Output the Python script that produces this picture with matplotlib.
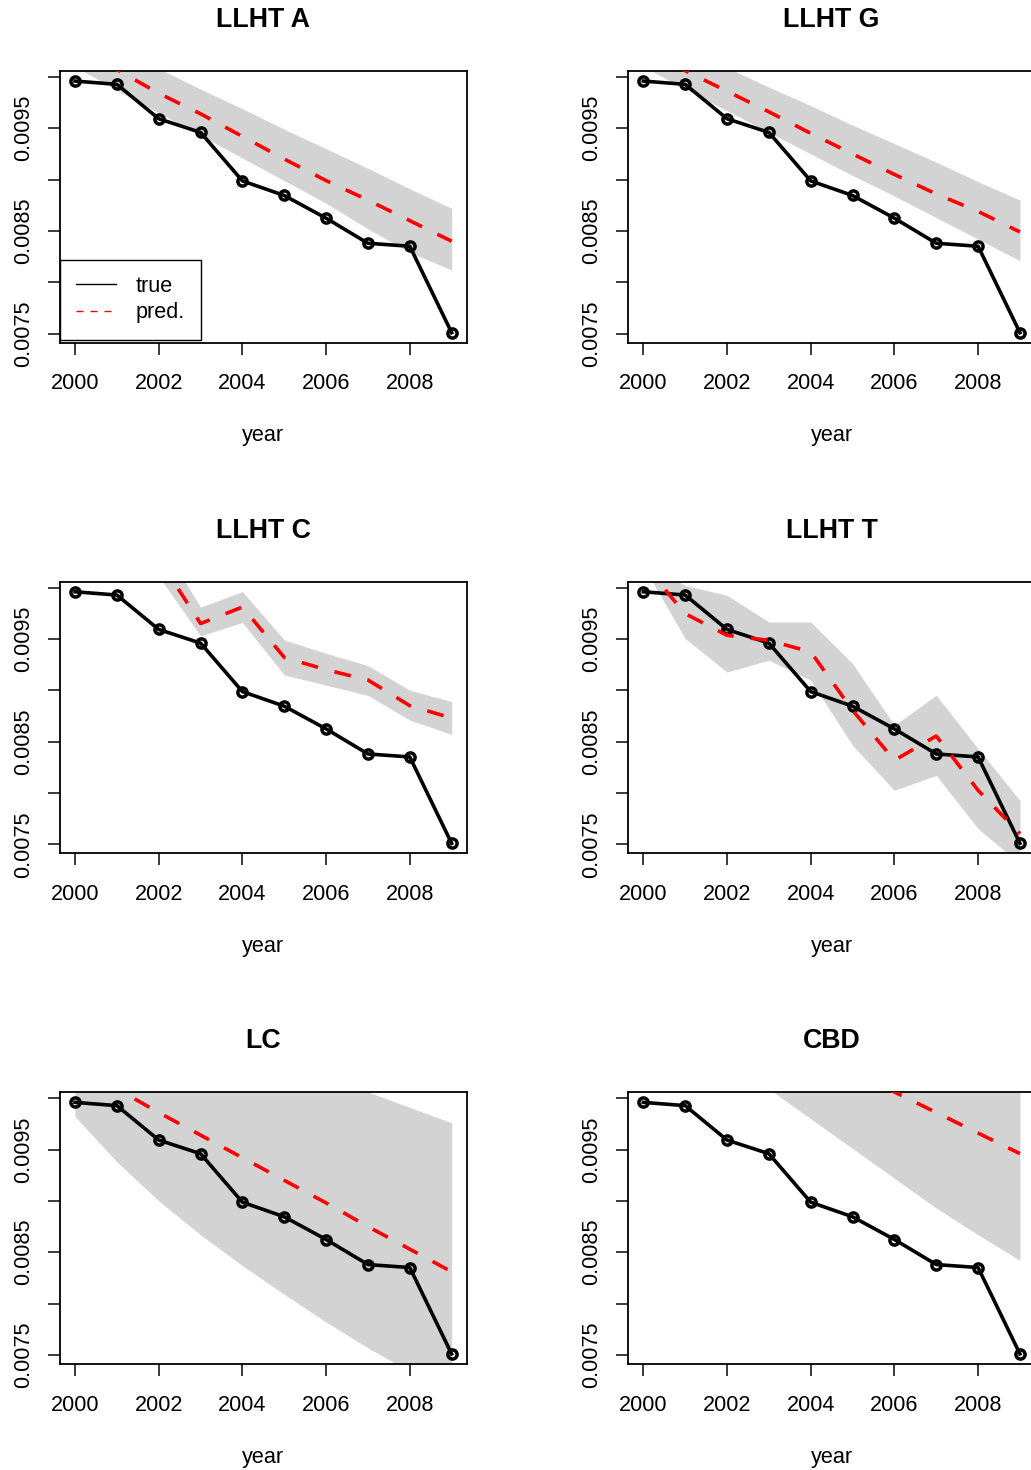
import matplotlib
matplotlib.use("Agg")
import matplotlib.pyplot as plt
from matplotlib.lines import Line2D

# ---------------- data ----------------
years = [2000, 2001, 2002, 2003, 2004, 2005, 2006, 2007, 2008, 2009]
true_vals = [0.009959, 0.009927, 0.009592, 0.009459, 0.008987,
             0.008845, 0.008624, 0.008380, 0.008351, 0.007510]

titles = ["LLHT A", "LLHT G", "LLHT C", "LLHT T", "LC", "CBD"]

pred_A = [0.01028, 0.01007, 0.00984, 0.00964, 0.00942, 0.00920, 0.00899, 0.00880, 0.00860, 0.00840]
lower_A = [0.01010, 0.00987, 0.00965, 0.00943, 0.00921, 0.00899, 0.00877, 0.00852, 0.00829, 0.00812]
upper_A = [0.01046, 0.01027, 0.01008, 0.00988, 0.00969, 0.00949, 0.00930, 0.00911, 0.00891, 0.00872]

pred_G = [0.01027, 0.01006, 0.00986, 0.00966, 0.00945, 0.00925, 0.00905, 0.00886, 0.00869, 0.00849]
lower_G = [0.01010, 0.00988, 0.00967, 0.00946, 0.00925, 0.00904, 0.00884, 0.00863, 0.00842, 0.00821]
upper_G = [0.01045, 0.01027, 0.01009, 0.00990, 0.00972, 0.00953, 0.00935, 0.00917, 0.00898, 0.00880]

pred_C = [0.01080, 0.01060, 0.01028, 0.00965, 0.00981, 0.00932, 0.00920, 0.00910, 0.00885, 0.00873]
lower_C = [0.01050, 0.01030, 0.01011, 0.00953, 0.00966, 0.00915, 0.00905, 0.00895, 0.00871, 0.00857]
upper_C = [0.01110, 0.01090, 0.01047, 0.00981, 0.00996, 0.00949, 0.00936, 0.00924, 0.00900, 0.00889]

pred_T = [0.01023, 0.009746, 0.009535, 0.009486, 0.009373, 0.008805, 0.008318, 0.008555, 0.008026, 0.007604]
lower_T = [0.01021, 0.009503, 0.009178, 0.009292, 0.009097, 0.008464, 0.008026, 0.008172, 0.007653, 0.007312]
upper_T = [0.01025, 0.01002, 0.009924, 0.009665, 0.009665, 0.009259, 0.008660, 0.008951, 0.008432, 0.007928]

pred_LC = [0.01031, 0.01009, 0.00986, 0.00964, 0.00942, 0.00920, 0.00898, 0.00875, 0.00853, 0.00831]
lower_LC = [0.00982, 0.00938, 0.00900, 0.00867, 0.00837, 0.00809, 0.00782, 0.00757, 0.00734, 0.00712]
upper_LC = [0.01089, 0.01091, 0.01091, 0.01081, 0.01067, 0.01052, 0.01036, 0.01006, 0.00991, 0.00976]

pred_CBD = [0.01128, 0.01108, 0.01087, 0.01067, 0.01047, 0.01027, 0.01006, 0.00986, 0.00966, 0.00946]
lower_CBD = [0.01075, 0.01050, 0.01030, 0.01009, 0.00980, 0.00951, 0.00922, 0.00893, 0.00867, 0.00842]
upper_CBD = [0.01180, 0.01170, 0.01150, 0.01130, 0.01120, 0.01100, 0.01090, 0.01080, 0.01070, 0.01060]

xtick_vals = [2000, 2002, 2004, 2006, 2008]
ytick_vals = [0.0075, 0.0080, 0.0085, 0.0090, 0.0095, 0.0100]
ytick_labels = ["0.0075", "", "0.0085", "", "0.0095", ""]

legend_labels = ["true", "pred."]
xlabel = "year"

panels = [
    (titles[0], pred_A, lower_A, upper_A),
    (titles[1], pred_G, lower_G, upper_G),
    (titles[2], pred_C, lower_C, upper_C),
    (titles[3], pred_T, lower_T, upper_T),
    (titles[4], pred_LC, lower_LC, upper_LC),
    (titles[5], pred_CBD, lower_CBD, upper_CBD),
]

# ---------------- styling / layout ----------------
plt.rcParams['font.family'] = ['Liberation Sans', 'DejaVu Sans']

W, H = 1031, 1470
PT = 0.72  # points per pixel at dpi 100
fig = plt.figure(figsize=(W / 100, H / 100), dpi=100)
fig.patch.set_facecolor("white")

box_w, box_h = 406.7, 271.7
lefts = [60.0, 628.3]
tops = [71.0, 581.7, 1092.3]

FS = 15.6
TFS = 19.3

xr = max(years) - min(years)
xlim = (min(years) - 0.04 * xr, max(years) + 0.04 * xr)
yr = max(true_vals) - min(true_vals)
ylim = (min(true_vals) - 0.04 * yr, max(true_vals) + 0.04 * yr)

for i, (title, pred, lo, up) in enumerate(panels):
    r, c = divmod(i, 2)
    ax = fig.add_axes([lefts[c] / W, 1 - (tops[r] + box_h) / H, box_w / W, box_h / H])
    ax.fill_between(years, lo, up, color="#D3D3D3", lw=0, zorder=1)
    ax.plot(years, true_vals, color="black", lw=2.6, marker="o", ms=6.6, mew=2.5,
            mfc="none", mec="black", zorder=3)
    ax.plot(years, pred, color="red", lw=2.6, ls=(0, (4.7, 4.7)), zorder=4)

    ax.set_xlim(*xlim)
    ax.set_ylim(*ylim)
    ax.set_xticks(xtick_vals)
    ax.set_xticklabels([str(v) for v in xtick_vals])
    ax.set_yticks(ytick_vals)
    ax.set_yticklabels(ytick_labels)
    for lab in ax.get_yticklabels():
        lab.set_rotation(90)
        lab.set_va("center")
    ax.tick_params(direction="out", length=12 * PT, width=1.5 * PT, labelsize=FS,
                   color="black")
    ax.tick_params(axis="x", pad=13.5)
    ax.tick_params(axis="y", pad=10)
    for s in ax.spines.values():
        s.set_linewidth(1.8 * PT)
        s.set_color("black")

    ax.set_title(title, fontsize=TFS, fontweight="bold", pad=43.8 * PT)
    ax.set_xlabel(xlabel, fontsize=FS)
    ax.xaxis.set_label_coords(0.5, -(436 - 342.7) / box_h)
    ax.xaxis.label.set_va("center")

    if i == 0:
        handles = [Line2D([], [], color="black", lw=1.4 * PT),
                   Line2D([], [], color="red", lw=1.4 * PT, ls=(0, (5, 5)))]
        leg = ax.legend(handles, legend_labels, loc="lower left",
                        bbox_to_anchor=(0, 3 / box_h), borderaxespad=0,
                        fontsize=FS, frameon=True, fancybox=False,
                        edgecolor="black", framealpha=1, borderpad=0.75,
                        handlelength=1.85, handletextpad=0.9, labelspacing=0.25)
        leg.get_frame().set_linewidth(1.4 * PT)
        leg.set_zorder(10)

fig.savefig("out.png", dpi=100, facecolor="white")
